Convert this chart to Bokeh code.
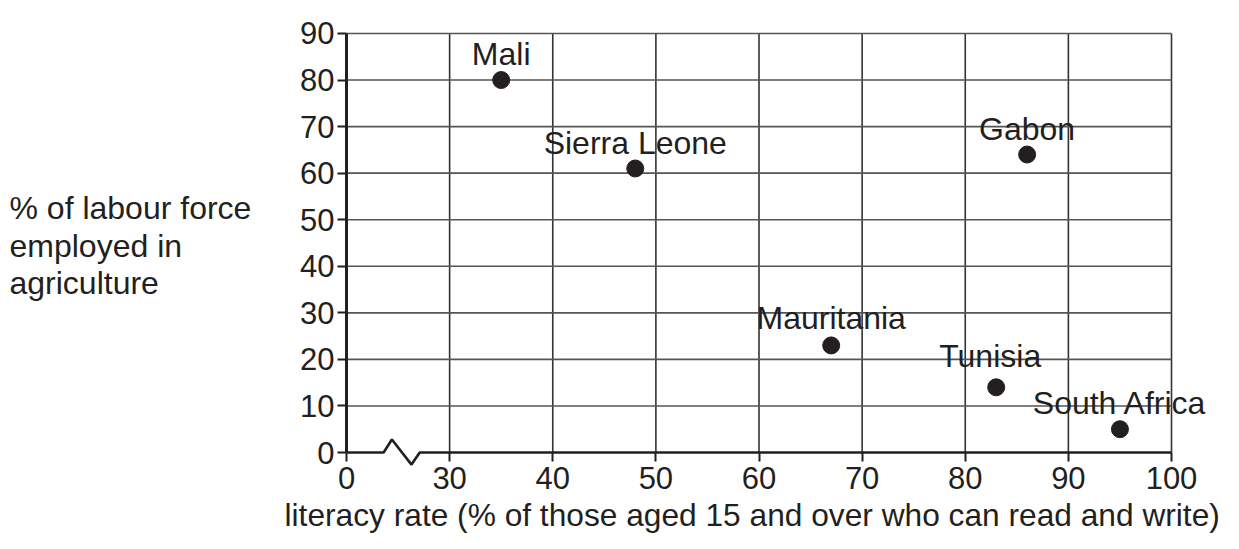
from bokeh.plotting import figure
from bokeh.models import Range1d, FixedTicker
from bokeh.core.properties import value
from bokeh.embed import file_html
from bokeh.resources import INLINE

# ---- data ----
countries = ["Mali", "Sierra Leone", "Gabon", "Mauritania", "Tunisia", "South Africa"]
literacy = [35, 48, 86, 67, 83, 95]
agriculture = [80, 61, 64, 23, 14, 5]

x_ticks = [20, 30, 40, 50, 60, 70, 80, 90, 100]
x_tick_labels = {20: "0"}
y_ticks = [0, 10, 20, 30, 40, 50, 60, 70, 80, 90]
x_grid = [30, 40, 50, 60, 70, 80, 90, 100]
y_grid = [10, 20, 30, 40, 50, 60, 70, 80, 90]

x_title = "literacy rate (% of those aged 15 and over who can read and write)"
y_title_lines = ["% of labour force", "employed in", "agriculture"]

# axis-break zigzag (decoration on the x axis)
break_x = [20, 23.6, 24.4, 26.3, 27.1, 100]
break_y = [0, 0, 2.8, -2.6, 0, 0]

# title placement (data units; titles sit outside the 20..100 / 0..90 box)
x_title_pos = (13.99, -15.68)
y_title_x = -12.68
y_title_y = [50.05, 41.99, 33.94]

# label nudges (screen px)
label_dx = [0, 0, 0, 0, -6, 0]
label_dy = [-26, -26, -26, -27, -31, -26]

INK = "#231f20"
FONT = "Liberation Sans"

p = figure(width=1223, height=533, output_backend="svg", toolbar_location=None,
           x_range=Range1d(-13.552, 105.042), y_range=Range1d(-17.398, 97.087),
           min_border_left=0, min_border_right=0, min_border_top=0, min_border_bottom=0)
p.outline_line_color = None
p.grid.visible = False
p.background_fill_color = "white"

# grid
p.segment(x0=x_grid, y0=[0] * len(x_grid), x1=x_grid, y1=[90] * len(x_grid),
          line_color="#333333", line_width=1.6)
p.segment(x0=[20] * len(y_grid), y0=y_grid, x1=[100] * len(y_grid), y1=y_grid,
          line_color="#555555", line_width=1.6)

# x axis line with break
p.line(break_x, break_y, line_color=INK, line_width=2.6)

# points and their names
p.scatter(literacy, agriculture, size=17, color=INK)
p.text(literacy, agriculture, text=countries, text_align="center", text_baseline="alphabetic",
       x_offset=label_dx, y_offset=label_dy, text_font=value(FONT), text_font_size="32px",
       text_color=INK)

# axis titles
p.text(x=[x_title_pos[0]], y=[x_title_pos[1]], text=[x_title], text_align="left",
       text_baseline="alphabetic", y_offset=-11, text_font=value(FONT),
       text_font_size="31.7px", text_color=INK)
p.text(x=[y_title_x] * 3, y=y_title_y, text=y_title_lines, text_align="left",
       text_baseline="alphabetic", y_offset=-11, text_font=value(FONT),
       text_font_size="32px", text_color=INK)

# axes
xa = p.xaxis[0]
xa.fixed_location = 0
xa.ticker = FixedTicker(ticks=x_ticks)
xa.major_label_overrides = x_tick_labels
xa.axis_line_color = None
xa.major_tick_in = 0
xa.major_tick_out = 9
xa.major_tick_line_width = 2
xa.major_tick_line_color = INK
xa.minor_tick_line_color = None
xa.major_label_standoff = 5
xa.major_label_text_font = FONT
xa.major_label_text_font_size = "31px"
xa.major_label_text_color = INK

ya = p.yaxis[0]
ya.fixed_location = 20
ya.bounds = (0, 90)
ya.ticker = FixedTicker(ticks=y_ticks)
ya.axis_line_color = INK
ya.axis_line_width = 3
ya.major_tick_in = 0
ya.major_tick_out = 9
ya.major_tick_line_width = 2
ya.major_tick_line_color = INK
ya.minor_tick_line_color = None
ya.major_label_standoff = 3
ya.major_label_text_font = FONT
ya.major_label_text_font_size = "31px"
ya.major_label_text_color = INK

open("out.html", "w").write(file_html(p, INLINE))
